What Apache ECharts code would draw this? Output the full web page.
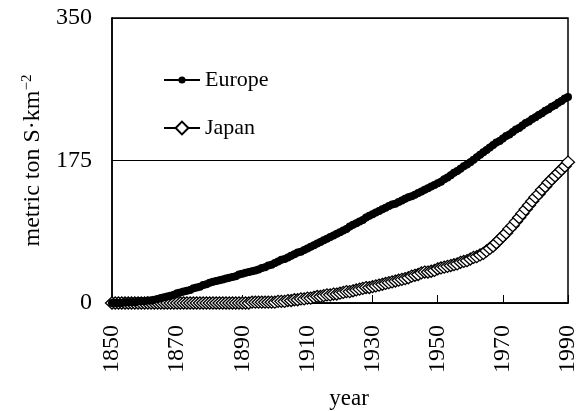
<!DOCTYPE html>
<html>
<head>
<meta charset="utf-8">
<script src="https://cdn.jsdelivr.net/npm/echarts@6/dist/echarts.min.js"></script>
<style>
  html, body { margin: 0; padding: 0; background: #fff; }
  #chart { width: 583px; height: 411px; }
</style>
</head>
<body>
<div id="chart"></div>
<script>
// Sulfur deposition estimates, one value per year 1850–1990
const startYear = 1850;
const xTicks = [1850, 1870, 1890, 1910, 1930, 1950, 1970, 1990];
const yTicks = [0, 175, 350];

const europe = [
  0, 0, 0, 0, 1, 1, 1, 1, 2, 2,
  2, 3, 3, 4, 5, 6, 7, 8, 9, 10,
  12, 13, 14, 15, 16, 18, 19, 20, 22, 23,
  25, 26, 27, 28, 29, 30, 31, 32, 33, 35,
  36, 37, 38, 39, 40, 41, 43, 44, 46, 47,
  49, 51, 53, 54, 56, 58, 60, 62, 63, 65,
  67, 69, 71, 73, 75, 77, 79, 81, 83, 85,
  87, 89, 91, 94, 96, 98, 100, 102, 105, 107,
  109, 111, 113, 115, 117, 119, 121, 122, 124, 126,
  128, 130, 131, 133, 135, 137, 139, 141, 143, 145,
  147, 149, 152, 154, 157, 160, 162, 165, 168, 170,
  173, 176, 179, 182, 185, 188, 191, 194, 197, 199,
  202, 205, 207, 210, 213, 215, 218, 221, 223, 226,
  228, 231, 233, 236, 238, 241, 243, 246, 248, 251,
  253
];

const japan = [
  0, 0, 0, 0, 0, 0, 0, 0, 0, 0,
  0, 0, 0, 0, 0, 0, 0, 0, 0, 0,
  0, 0, 0, 0, 0, 0, 0, 0, 0, 0,
  0, 0, 0, 0, 0, 0, 0, 0, 0, 0,
  0, 0, 0, 1, 1, 1, 1, 1, 1, 1,
  1, 2, 2, 2, 3, 3, 4, 4, 5, 5,
  6, 6, 7, 8, 8, 9, 10, 10, 11, 11,
  12, 13, 14, 14, 15, 16, 17, 18, 19, 19,
  20, 21, 22, 23, 24, 25, 26, 27, 28, 29,
  30, 31, 33, 34, 35, 37, 38, 38, 39, 40,
  42, 43, 44, 45, 46, 47, 48, 50, 51, 52,
  54, 56, 57, 59, 61, 64, 67, 70, 74, 78,
  82, 86, 91, 95, 100, 105, 110, 115, 120, 125,
  130, 134, 139, 143, 148, 152, 156, 160, 164, 168,
  173
];

const pairs = arr => arr.map((v, i) => [startYear + i, v]);
const serif = '"Liberation Serif", "Times New Roman", serif';

const chart = echarts.init(document.getElementById('chart'), null, { renderer: 'canvas' });

chart.setOption({
  animation: false,
  backgroundColor: '#fff',
  textStyle: { fontFamily: serif, color: '#000' },
  grid: {
    left: 112, right: 15, top: 18, bottom: 108,
    containLabel: false,
    outerBoundsMode: 'none',
    show: true, borderColor: '#000', borderWidth: 1.5
  },
  legend: [
    {
      data: ['Europe'],
      left: 158, top: 64,
      itemWidth: 36, itemHeight: 9, itemGap: 0,
      textStyle: { fontFamily: serif, fontSize: 22, color: '#000' },
      selectedMode: false
    },
    {
      data: ['Japan'],
      left: 158, top: 112,
      itemWidth: 36, itemHeight: 16, itemGap: 0,
      textStyle: { fontFamily: serif, fontSize: 22, color: '#000' },
      selectedMode: false
    }
  ],
  xAxis: {
    type: 'value',
    min: xTicks[0], max: xTicks[xTicks.length - 1], interval: 20,
    name: 'year',
    nameLocation: 'middle',
    nameGap: 84,
    nameTextStyle: { fontFamily: serif, fontSize: 23, color: '#000', padding: [0, 0, 0, 18] },
    axisLine: { show: true, lineStyle: { color: '#000', width: 1.5 } },
    axisTick: { show: true, inside: true, length: 8, lineStyle: { color: '#000', width: 1 } },
    axisLabel: {
      rotate: 90, margin: 22, fontFamily: serif, fontSize: 24, color: '#000',
      formatter: v => String(v)
    },
    splitLine: { show: false }
  },
  yAxis: {
    type: 'value',
    min: yTicks[0], max: yTicks[yTicks.length - 1], interval: 175,
    name: 'metric ton S·km{sup|−2}',
    nameLocation: 'middle',
    nameGap: 64,
    nameTextStyle: {
      fontFamily: serif, fontSize: 24, color: '#000',
      rich: { sup: { fontFamily: serif, fontSize: 15, color: '#000', padding: [0, 0, 13, 0] } }
    },
    axisLine: { show: true, lineStyle: { color: '#000', width: 1.5 } },
    axisTick: { show: false },
    axisLabel: { margin: 20, fontFamily: serif, fontSize: 24, color: '#000', formatter: v => String(v) },
    splitLine: { show: true, lineStyle: { color: '#000', width: 1 } }
  },
  series: [
    {
      name: 'Europe',
      type: 'line',
      data: pairs(europe),
      symbol: 'circle',
      symbolSize: 8,
      showAllSymbol: true,
      lineStyle: { color: '#000', width: 7 },
      itemStyle: { color: '#000', borderColor: '#000', borderWidth: 0 },
      emphasis: { disabled: true },
      z: 3
    },
    {
      name: 'Japan',
      type: 'line',
      data: pairs(japan),
      symbol: 'diamond',
      symbolSize: [13, 12],
      showAllSymbol: true,
      lineStyle: { color: '#000', width: 1 },
      itemStyle: { color: '#fff', borderColor: '#000', borderWidth: 1.3 },
      emphasis: { disabled: true },
      z: 2
    }
  ]
});
</script>
</body>
</html>
